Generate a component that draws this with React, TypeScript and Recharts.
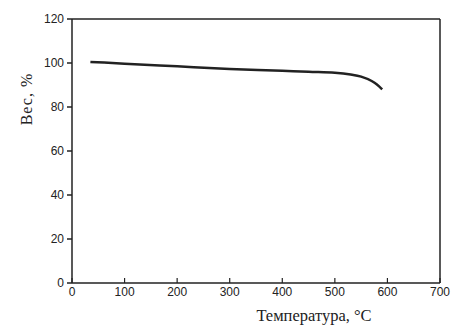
import React from 'react';
import { LineChart, Line, XAxis, YAxis, ReferenceLine } from 'recharts';

const temps = [35, 100, 200, 300, 400, 450, 500, 530, 550, 570, 580, 590];
const weights = [100.5, 99.7, 98.5, 97.3, 96.5, 96.0, 95.6, 94.8, 93.8, 91.8, 90.2, 88.0];
const xTicks = [0, 100, 200, 300, 400, 500, 600, 700];
const yTicks = [0, 20, 40, 60, 80, 100, 120];

const data = temps.map((t, i) => ({ t, w: weights[i] }));

const XTick = (props: any) => {
  const { x, y, payload } = props;
  return (
    <g>
      <line x1={x} y1={y} x2={x} y2={y - 5} stroke="#222" strokeWidth={1.2} />
      <text x={x} y={y + 13} textAnchor="middle" fill="#222" fontSize={12} fontFamily="Liberation Sans, Arial, sans-serif">
        {payload.value}
      </text>
    </g>
  );
};

export default function App() {
  return (
    <div style={{ position: 'absolute', left: 0, top: 0, width: 470, height: 332, background: '#fff' }}>
      <LineChart width={470} height={332} data={data} margin={{ top: 19, right: 30, left: 0, bottom: 0 }}>
        <XAxis
          dataKey="t"
          type="number"
          domain={[0, 700]}
          ticks={xTicks}
          height={49}
          tickSize={0}
          tickMargin={0}
          tickLine={false}
          tick={<XTick />}
          stroke="#222"
          strokeWidth={1.5}
          label={{
            content: () => (
              <text x={314} y={321} textAnchor="middle" fill="#222" fontSize={16.5} fontFamily="Liberation Serif, Times New Roman, serif">
                Температура, °C
              </text>
            ),
          }}
        />
        <YAxis
          type="number"
          domain={[0, 120]}
          ticks={yTicks}
          width={72}
          tickSize={5}
          tickMargin={3}
          stroke="#222"
          strokeWidth={1.5}
          tick={{ fill: '#222', fontSize: 12, fontFamily: 'Liberation Sans, Arial, sans-serif' }}
          label={{
            content: () => (
              <text x={32} y={99} textAnchor="middle" fill="#222" fontSize={16} letterSpacing={1} fontFamily="Liberation Serif, Times New Roman, serif" transform="rotate(-90 32 99)">
                Вес, %
              </text>
            ),
          }}
        />
        <ReferenceLine y={120} stroke="#222" strokeWidth={1.5} />
        <ReferenceLine x={700} stroke="#222" strokeWidth={1.5} />
        <Line dataKey="w" type="monotone" stroke="#222" strokeWidth={2.5} dot={false} isAnimationActive={false} />
      </LineChart>
    </div>
  );
}
